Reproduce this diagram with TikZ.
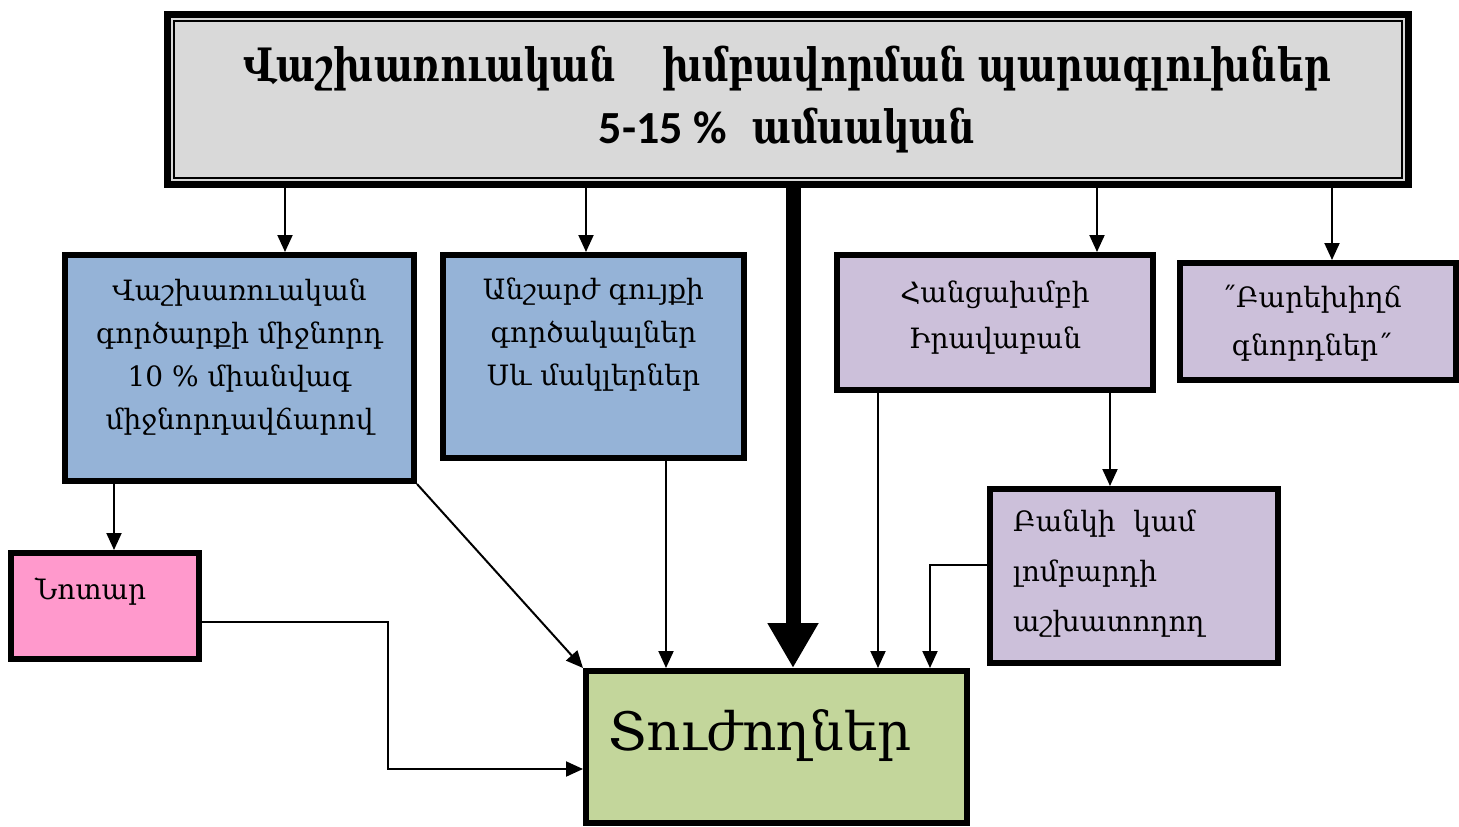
\documentclass[tikz,border=0pt]{standalone}
\usepackage{fontspec}
\setmainfont{DejaVu Serif}
\newfontfamily\headfont{DejaVu Serif Condensed}[FakeStretch=0.89]
\newfontfamily\numfont{Carlito}
\usepackage{xcolor}
\usetikzlibrary{
  arrows.meta,
  positioning
}
\definecolor{headgray}{HTML}{D9D9D9}
\definecolor{brokerblue}{HTML}{95B3D7}
\definecolor{gangviolet}{HTML}{CCC0DA}
\definecolor{notarypink}{HTML}{FF99CC}
\definecolor{victimgreen}{HTML}{C3D69B}

\begin{document}
\begin{tikzpicture}[x=1pt, y=-1pt,
    every node/.style={rectangle, inner sep=0pt},
    field/.style={draw, line width=6pt},
    boxtext/.style={font=\fontsize{28}{43}\selectfont, align=center, anchor=north},
    arr/.style={line width=2pt, -{Triangle[length=17pt,width=15pt]}},
    bigarr/.style={line width=15pt, -{Triangle[length=45pt,width=48pt]}}]
\useasboundingbox (0,0) rectangle (1459,827);

% boxes
\node [field, line width=7pt, fill=headgray, minimum width=1241pt, minimum height=170pt] (head) at (787.5,99) {};
\draw [line width=2pt] ([shift={(10pt,-10pt)}]head.north west) rectangle ([shift={(-10pt,10pt)}]head.south east);
\node [field, fill=brokerblue, minimum width=349pt, minimum height=226pt] (broker) at (239.5,368) {};
\node [field, fill=brokerblue, minimum width=301pt, minimum height=203pt] (realtor) at (593.5,356.5) {};
\node [field, fill=gangviolet, minimum width=316pt, minimum height=135pt] (lawyer) at (995,322.5) {};
\node [field, fill=gangviolet, minimum width=276pt, minimum height=117pt] (buyers) at (1318,321.5) {};
\node [field, fill=gangviolet, minimum width=288pt, minimum height=174pt] (bank) at (1134,576) {};
\node [field, fill=notarypink, minimum width=188pt, minimum height=106pt] (notary) at (105,606) {};
\node [field, fill=victimgreen, minimum width=381pt, minimum height=152pt] (victims) at (776.5,747) {};

% texts
\node [font=\headfont\bfseries\fontsize{46}{62}\selectfont, align=center] (headtext) at (787,100)
  {Վաշխառուական\quad խմբավորման պարագլուխներ\\{\numfont 5-15 \%}\ \ ամսական};
\node [boxtext] (brokertext) at ([yshift=-27pt]broker.north)
  {Վաշխառուական\\գործարքի միջնորդ\\10 \% միանվագ\\միջնորդավճարով};
\node [boxtext] (realtortext) at ([yshift=-26pt]realtor.north)
  {Անշարժ գույքի\\գործակալներ\\Սև մակլերներ};
\node [boxtext, font=\fontsize{28}{46}\selectfont] (lawyertext) at ([yshift=-29pt]lawyer.north)
  {Հանցախմբի\\Իրավաբան};
\node [boxtext, font=\fontsize{28}{48}\selectfont] (buyerstext) at ([xshift=-6pt,yshift=-25pt]buyers.north)
  {˝Բարեխիղճ\\գնորդներ˝};
\node [boxtext, font=\fontsize{28}{50}\selectfont, align=left, anchor=north west] (banktext) at ([xshift=26pt,yshift=-24pt]bank.north west)
  {Բանկի\ \ կամ\\լոմբարդի\\աշխատողող};
\node [font=\fontsize{28}{34}\selectfont, anchor=north west] (notarytext) at ([xshift=27pt,yshift=-28pt]notary.north west) {Նոտար};
\node [font=\fontsize{53}{60}\selectfont, anchor=base west] (victimstext) at (608,750) {Տուժողներ};

% connectors
\draw [arr] (head.south -| 285,0) -- (broker.north -| 285,0);
\draw [arr] (head.south -| 586,0) -- (realtor.north -| 586,0);
\draw [arr] (head.south -| 1097,0) -- (lawyer.north -| 1097,0);
\draw [arr] (head.south -| 1332,0) -- (buyers.north -| 1332,0);
\draw [bigarr] (head.south -| 793,0) -- (victims.north -| 793,0);
\draw [arr] (broker.south -| 114,0) -- (notary.north -| 114,0);
\draw [arr] (broker.south east) -- (victims.north west);
\draw [arr] ([yshift=3pt]realtor.south -| 666,0) -- (victims.north -| 666,0);
\draw [arr] (lawyer.south -| 878,0) -- (victims.north -| 878,0);
\draw [arr] (lawyer.south -| 1110,0) -- (bank.north -| 1110,0);
\draw [arr] ([yshift=11pt]bank.west) -| (victims.north -| 930,0);
\draw [arr] ([yshift=-16pt]notary.east) -| ([xshift=-195pt,yshift=-22pt]victims.west) -- ([yshift=-22pt]victims.west);
\end{tikzpicture}
\end{document}
